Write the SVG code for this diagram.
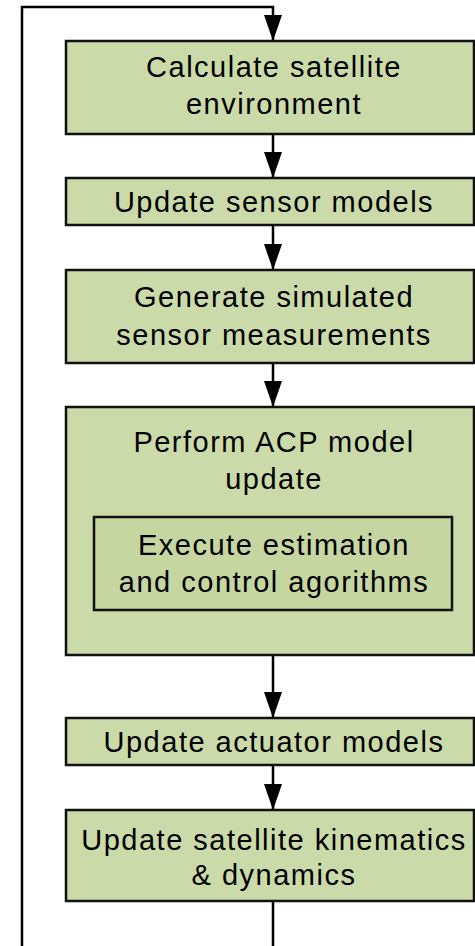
<svg xmlns="http://www.w3.org/2000/svg" width="475" height="946" viewBox="0 0 475 946">
<style>
.box{fill:#cbdaa9;stroke:#111;stroke-width:2.5}
.inner{fill:#c5d6a0;stroke:#111;stroke-width:2.5}
.lbl{font-family:"Liberation Sans",Arial,sans-serif;font-size:29px;letter-spacing:1.5px;fill:#000;text-anchor:middle}
.conn{fill:none;stroke:#000;stroke-width:2.5}
</style>
<defs>
<marker id="ah" markerUnits="userSpaceOnUse" markerWidth="26" markerHeight="18" refX="26" refY="9" orient="auto">
<path d="M0,0 L26,9 L0,18 z" fill="#000"/>
</marker>
</defs>
<rect width="475" height="946" fill="#fff"/>
<g id="connectors">
<path class="conn" d="M273,901 V970 H22 V7 H273 V41" marker-end="url(#ah)"/>
<path class="conn" d="M273,134 V178" marker-end="url(#ah)"/>
<path class="conn" d="M273,225 V270" marker-end="url(#ah)"/>
<path class="conn" d="M273,363 V407" marker-end="url(#ah)"/>
<path class="conn" d="M273,655 V718" marker-end="url(#ah)"/>
<path class="conn" d="M273,765 V810" marker-end="url(#ah)"/>
</g>
<g id="n1">
<rect class="box" x="66" y="41" width="408" height="93"/>
<text class="lbl" x="274" y="77">Calculate satellite</text>
<text class="lbl" x="274" y="114">environment</text>
</g>
<g id="n2">
<rect class="box" x="66" y="178" width="408" height="47"/>
<text class="lbl" x="274" y="212">Update sensor models</text>
</g>
<g id="n3">
<rect class="box" x="66" y="270" width="408" height="93"/>
<text class="lbl" x="274" y="307">Generate simulated</text>
<text class="lbl" x="274" y="345">sensor measurements</text>
</g>
<g id="n4">
<rect class="box" x="66" y="407" width="408" height="248"/>
<text class="lbl" x="274" y="452">Perform ACP model</text>
<text class="lbl" x="274" y="489">update</text>
</g>
<g id="n4a">
<rect class="inner" x="94" y="517" width="358" height="93"/>
<text class="lbl" x="274" y="555">Execute estimation</text>
<text class="lbl" x="274" y="592">and control agorithms</text>
</g>
<g id="n5">
<rect class="box" x="66" y="718" width="408" height="47"/>
<text class="lbl" x="274" y="752">Update actuator models</text>
</g>
<g id="n6">
<rect class="box" x="66" y="810" width="408" height="91"/>
<text class="lbl" x="274" y="850">Update satellite kinematics</text>
<text class="lbl" x="274" y="885">&amp; dynamics</text>
</g>
</svg>
